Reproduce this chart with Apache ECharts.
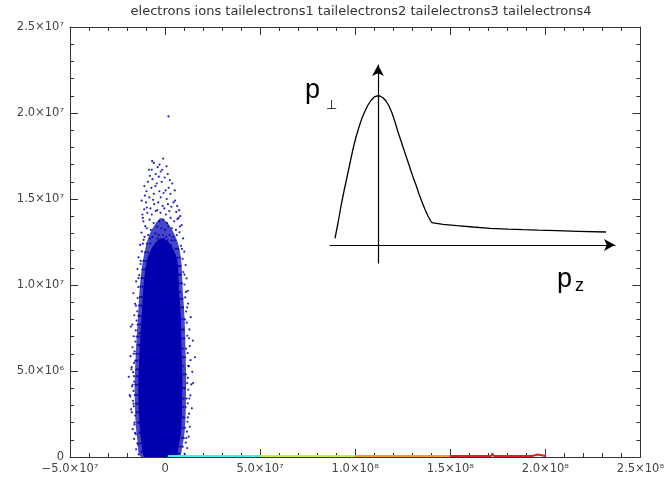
<!DOCTYPE html>
<html><head><meta charset="utf-8">
<script src="https://cdn.jsdelivr.net/npm/echarts@6/dist/echarts.min.js"></script>
<style>html,body{margin:0;padding:0;background:#fff}#c{width:667px;height:480px}</style>
</head><body><div id="c"></div>
<script>
// ---- text ----
const titleText = 'electrons ions tailelectrons1 tailelectrons2 tailelectrons3 tailelectrons4';
// ---- axes (values in units of 10^6) ----
const xMin = -50, xMax = 250, xStep = 50;
const yMin = 0, yMax = 25, yStep = 5;
const xTickLabels = ['\u22125.0\u00d710\u2077', '0', '5.0\u00d710\u2077', '1.0\u00d710\u2078', '1.5\u00d710\u2078', '2.0\u00d710\u2078', '2.5\u00d710\u2078'];
const yTickLabels = ['0', '5.0\u00d710\u2076', '1.0\u00d710\u2077', '1.5\u00d710\u2077', '2.0\u00d710\u2077', '2.5\u00d710\u2077'];

// ---- electrons: dense core outline (x, y in 10^6) ----
const coreX = [-10.6, -12.6, -13.6, -14.1, -13.9, -13.1, -12.1, -11.5, -10.4, -8.8, -6.1, -2.3, 1.8, 5.1, 6.7, 7.3, 8.4, 8.5, 9.0, 9.0, 8.5, 7.3, 5.3];
const coreY = [0, 1.0, 2.2, 3.9, 5.0, 6.8, 8.6, 9.7, 10.9, 11.7, 12.3, 12.7, 12.5, 11.9, 11.2, 9.7, 8.0, 6.8, 5.1, 3.3, 1.6, 0.7, 0];
// ---- electrons: speckled fringe outline ----
const fringeX = [-12.5, -14.6, -15.6, -16.0, -15.8, -15.0, -14.0, -13.4, -12.3, -10.8, -8.3, -4.8, -2.3, 0.5, 3.8, 6.9, 8.5, 9.3, 10.3, 10.6, 11.0, 11.0, 10.4, 9.2, 7.2];
const fringeY = [0, 1.0, 2.2, 3.9, 5.0, 6.8, 8.6, 9.7, 10.9, 11.9, 12.9, 13.6, 13.9, 13.7, 13.2, 12.4, 11.4, 9.7, 8.0, 6.8, 5.1, 3.3, 1.6, 0.7, 0];
// ---- electrons: scattered halo points ----
const electronHalo = [
  [-11.2,0.3],[-12.5,0.3],[-13.0,0.8],[-11.8,0.8],[-14.6,0.8],[-13.5,1.4],[-12.9,1.4],[-15.8,1.4],
  [-14.2,2.0],[-13.8,2.0],[-16.1,2.0],[-14.9,2.6],[-14.0,2.6],[-17.5,2.6],[-15.1,3.1],[-14.3,3.1],[-16.6,3.1],
  [-14.8,3.6],[-15.9,3.6],[-18.6,3.6],[-14.6,4.2],[-15.5,4.2],[-17.0,4.2],[-14.9,4.7],[-14.2,4.7],[-16.4,4.7],
  [-17.7,5.1],[-15.0,5.1],[-14.1,5.1],[-14.8,5.6],[-15.7,5.6],[-15.2,6.0],[-13.8,6.0],[-16.5,6.0],
  [-14.4,6.5],[-13.5,6.5],[-13.8,7.0],[-15.0,7.0],[-13.3,7.2],[-17.2,7.7],[-13.2,7.7],[-14.4,7.7],
  [-12.9,8.2],[-14.0,8.2],[-12.5,8.8],[-13.6,8.8],[-15.3,8.8],[-12.2,9.3],[-13.1,9.3],[-11.8,9.9],[-12.9,9.9],
  [-11.5,10.4],[-12.4,10.4],[-14.0,10.4],[-10.9,10.9],[-11.9,10.9],[-10.2,11.4],[-11.3,11.4],[-12.8,11.4],
  [-9.1,11.9],[-10.5,11.9],[-7.8,12.4],[-9.6,12.4],[-11.7,12.4],
  [6.2,0.2],[7.4,0.2],[8.0,0.6],[9.3,0.6],[8.8,1.1],[9.9,1.1],[11.2,1.1],[9.2,1.7],[10.5,1.7],
  [9.4,2.3],[10.1,2.3],[12.0,2.3],[9.6,2.9],[10.8,2.9],[9.7,3.4],[11.3,3.4],[12.7,3.4],[9.5,4.0],[10.4,4.0],
  [14.7,4.3],[11.6,4.3],[9.8,4.8],[10.9,4.8],[9.6,5.3],[12.2,5.3],[15.7,5.8],[9.4,5.8],[10.6,5.8],
  [9.2,6.3],[11.0,6.3],[9.0,6.9],[10.1,6.9],[12.6,6.9],[8.9,7.4],[9.8,7.4],[9.1,8.0],[10.4,8.0],
  [11.6,8.7],[8.6,8.7],[9.5,8.7],[8.2,9.2],[9.1,9.2],[11.0,9.6],[7.9,9.6],[7.6,10.1],[8.8,10.1],
  [7.4,10.6],[8.3,10.6],[10.2,10.6],[7.2,11.1],[8.1,11.1],[6.4,11.6],[7.6,11.6],[5.6,12.1],[6.8,12.1],[8.9,12.1],
  [3.5,12.6],[5.0,12.6],[-7.8,12.7],[-4.0,12.7],[-0.5,12.7],[1.3,12.6],
  [-10.8,12.8],[-8.9,12.9],[-6.7,12.8],[-5.1,13.0],[-3.4,12.9],[-1.2,12.9],[0.6,12.8],[2.4,12.9],[4.1,12.8],[6.2,12.9],
  [-9.6,13.3],[-7.5,13.2],[-4.3,13.4],[-2.0,13.3],[-0.1,13.2],[1.7,13.4],[3.6,13.3],[5.7,13.2],[7.8,13.4],
  [-11.4,13.7],[-8.1,13.8],[-6.0,13.6],[-3.0,13.7],[-0.9,13.8],[1.1,13.6],[2.9,13.9],[4.8,13.7],
  [-9.3,14.2],[-7.0,14.1],[-4.9,14.3],[-2.4,14.2],[0.4,14.1],[2.2,14.3],[8.0,14.0],
  [-11.0,14.4],[-5.7,14.7],[-3.6,14.8],[-1.3,14.6],[1.5,14.7],[4.4,14.8],
  [-10.0,14.8],[-8.3,15.1],[-2.3,15.1],[0.9,15.0],[2.8,15.3],[-5.9,15.3],
  [-4.4,15.9],[-1.8,16.0],[-9.0,16.0],[0.3,15.5],[-3.3,16.3],[-2.3,16.6],[-5.9,17.1],[0.8,16.9],[-8.5,16.7],[-7.0,16.7],[-1.5,16.7],
  [1.8,19.8],
  [-7.7,14.45],[-6.3,14.95],[-4.1,14.35],[-0.4,14.45],[3.3,14.55],[5.9,14.25],[-9.8,15.45],[-7.2,15.65],[-5.1,15.75],[-3.0,15.45],
  [-0.8,15.35],[1.9,15.65],[3.8,15.9],[-6.6,16.15],[-4.9,16.45],[-0.2,16.25],[1.4,16.45],[-8.0,16.35],[-3.9,16.85],[-2.9,17.0],
  [-6.8,17.2],[-1.0,17.35],[2.5,16.1],[-10.9,15.75],[6.4,14.6],[5.1,15.5],[-12.3,14.9],[3.1,12.3],[-11.9,14.1],[7.1,13.9],
  [-13.9,0.15],[-15.2,0.45],[-14.1,0.72],[-16.3,1.05],[-15.4,1.33],[-17.0,1.62],[-16.1,1.88],[-15.7,2.41],[-17.9,2.77],[-16.4,2.95],
  [-16.9,3.27],[-18.3,3.52],[-16.6,3.84],[-17.4,4.11],[-16.2,4.38],[-19.1,4.66],[-16.8,4.93],[-17.6,5.22],[-16.3,5.47],[-18.2,5.86],
  [-16.0,6.14],[-17.1,6.38],[-15.6,6.71],[-16.5,7.02],[-15.4,7.36],[-18.0,7.58],[-15.0,7.93],[-16.2,8.24],[-14.6,8.47],[-15.8,8.91],
  [-14.4,9.24],[-16.7,9.52],[-14.1,9.88],[-15.2,10.21],[-13.6,10.57],[-14.5,10.93],[-12.9,11.22],[-14.0,11.61],[-12.2,11.95],[-13.1,12.33],
  [-11.3,12.62],[-12.4,13.05],[-10.4,13.42],[-11.7,13.9],[-9.6,14.5],[-10.6,15.2],
  [10.3,0.18],[11.6,0.52],[10.9,0.83],[12.4,1.19],[11.5,1.47],[13.0,1.76],[11.8,2.05],[12.6,2.52],[14.1,2.83],[11.9,3.12],
  [13.3,3.58],[12.2,3.91],[13.8,4.22],[12.0,4.6],[14.3,4.95],[12.5,5.28],[13.4,5.63],[11.9,6.04],[13.0,6.45],[14.6,6.77],
  [11.7,7.05],[12.8,7.42],[11.4,7.81],[13.5,8.13],[11.1,8.46],[12.1,8.92],[10.6,9.28],[11.9,9.66],[10.2,10.03],[11.3,10.38],
  [9.6,10.75],[10.8,11.16],[9.2,11.52],[10.1,11.94],[8.4,12.28],[9.5,12.71],[7.6,13.06],[8.7,13.48],[6.5,13.83],[7.4,14.35],[5.2,14.9]
];
// ---- tail electrons (along p_perp ~ 0) ----
const tail1 = [[1.5,0.06],[50,0.06]];
const tail2 = [[50,0.06],[100,0.06]];
const tail3 = [[100,0.06],[150,0.06]];
const tail4 = [[150,0.06],[171.5,0.06],[172,0.2],[173,0.06],[193,0.06],[194,0.15],[196,0.15],[197,0.06],[200,0.06]];
// ---- inset sketch curve (arbitrary units): peak and tail ----
const insetPeakU = [-43, -40, -37, -34, -31, -28, -25, -22, -19, -16, -13, -10, -7, -4, -1, 2, 5, 8, 11, 14, 17, 20, 23, 26, 29, 32, 35, 38, 41, 44, 47, 50, 53.7];
const insetPeakV = [6.7, 22, 39, 54, 68, 82, 96, 108, 118, 127, 134, 140, 144.5, 147.8, 149.2, 149, 147.3, 144, 139, 132, 123, 113, 104, 95, 86, 77, 68, 60, 51, 43, 35.5, 29, 22.3];
const insetTailU = [53.7, 65, 78.7, 95, 112, 130, 145.3, 160, 178.7, 200, 228];
const insetTailV = [22.3, 20.6, 19.3, 18, 16.7, 15.9, 15.3, 14.8, 14.3, 13.7, 13];

const FONT = 'DejaVu Sans';
const AX = '#333';
function xFmt(v){ const i = Math.round((v - xMin) / xStep); return xTickLabels[i] !== undefined ? xTickLabels[i] : ''; }
function yFmt(v){ const i = Math.round((v - yMin) / yStep); return yTickLabels[i] !== undefined ? yTickLabels[i] : ''; }

function mainAxis(pos, isX, showLabel){
  return {
    type: 'value', gridIndex: 0, position: pos,
    min: isX ? xMin : yMin, max: isX ? xMax : yMax, interval: isX ? xStep : yStep,
    axisLine: { show: true, onZero: false, lineStyle: { color: AX, width: 1 } },
    axisTick: { show: true, inside: true, length: 8, lineStyle: { color: AX } },
    minorTick: { show: true, splitNumber: 5, length: 4, lineStyle: { color: AX } },
    splitLine: { show: false },
    axisLabel: { show: showLabel, formatter: isX ? xFmt : yFmt, fontFamily: FONT, fontSize: 11.5, color: '#444', margin: 6, showMinLabel: true, showMaxLabel: true }
  };
}
const insetAxisBase = {
  type: 'value', gridIndex: 1,
  axisLine: { show: true, onZero: true, symbol: ['none', 'arrow'], symbolSize: [9, 11], lineStyle: { color: '#000', width: 1.2 } },
  axisTick: { show: false }, axisLabel: { show: false }, splitLine: { show: false }
};
const polyItem = (xs, ys, fill, opacity) => function (params, api) {
  if (params.dataIndex !== 0) return null;
  const pts = xs.map((x, i) => api.coord([x, ys[i]]));
  return { type: 'polygon', shape: { points: pts, smooth: 0.3 }, style: { fill: fill, opacity: opacity } };
};

const chart = echarts.init(document.getElementById('c'), null, { renderer: 'canvas' });
chart.setOption({
  animation: false,
  backgroundColor: '#fff',
  title: { text: titleText, left: 356, top: 0, textAlign: 'center',
    textStyle: { fontFamily: FONT, fontSize: 13, fontWeight: 'normal', color: '#333' } },
  grid: [
    { left: 70, right: 14, top: 27, bottom: 23 },
    { left: 330, right: 52, top: 65, bottom: 217 }
  ],
  xAxis: [
    mainAxis('bottom', true, true),
    mainAxis('top', true, false),
    Object.assign({}, insetAxisBase, { min: -48, max: 237 })
  ],
  yAxis: [
    mainAxis('left', false, true),
    mainAxis('right', false, false),
    Object.assign({}, insetAxisBase, { min: -18, max: 180 })
  ],
  graphic: [
    { type: 'text', left: 305, top: 77, style: { text: 'p', font: '27px "Liberation Sans"', fill: '#000' } },
    { type: 'text', left: 326, top: 99, style: { text: '\u22a5', font: '13px "DejaVu Sans"', fill: '#000' } },
    { type: 'text', left: 557, top: 266, style: { text: 'p', font: '27px "Liberation Sans"', fill: '#000' } },
    { type: 'text', left: 575, top: 277, style: { text: 'z', font: '18px "Liberation Sans"', fill: '#000' } }
  ],
  series: [
    {
      name: 'electrons', type: 'custom', xAxisIndex: 0, yAxisIndex: 0, clip: true,
      data: fringeX.map((x, i) => [x, fringeY[i]]), encode: { x: 0, y: 1 },
      renderItem: polyItem(fringeX, fringeY, '#0000b4', 0.72)
    },
    {
      name: 'electrons', type: 'custom', xAxisIndex: 0, yAxisIndex: 0, clip: true,
      data: coreX.map((x, i) => [x, coreY[i]]), encode: { x: 0, y: 1 },
      renderItem: polyItem(coreX, coreY, '#0000ae', 1)
    },
    {
      name: 'electrons', type: 'scatter', xAxisIndex: 0, yAxisIndex: 0,
      data: electronHalo, symbol: 'circle', symbolSize: 2.2,
      itemStyle: { color: '#0000b4', opacity: 0.85 }
    },
    { name: 'ions', type: 'scatter', xAxisIndex: 0, yAxisIndex: 0, data: [] },
    { name: 'tailelectrons1', type: 'line', xAxisIndex: 0, yAxisIndex: 0, data: tail1, showSymbol: false, lineStyle: { color: '#3ff0f0', width: 2 } },
    { name: 'tailelectrons2', type: 'line', xAxisIndex: 0, yAxisIndex: 0, data: tail2, showSymbol: false, lineStyle: { color: '#c4f040', width: 2 } },
    { name: 'tailelectrons3', type: 'line', xAxisIndex: 0, yAxisIndex: 0, data: tail3, showSymbol: false, lineStyle: { color: '#ff9a30', width: 2 } },
    { name: 'tailelectrons4', type: 'line', xAxisIndex: 0, yAxisIndex: 0, data: tail4, showSymbol: false, lineStyle: { color: '#e02020', width: 2 } },
    {
      name: 'sketch', type: 'line', xAxisIndex: 2, yAxisIndex: 2,
      data: insetPeakU.map((u, i) => [u, insetPeakV[i]]), showSymbol: false, smooth: false,
      lineStyle: { color: '#000', width: 1.3 }
    },
    {
      name: 'sketch', type: 'line', xAxisIndex: 2, yAxisIndex: 2,
      data: insetTailU.map((u, i) => [u, insetTailV[i]]), showSymbol: false, smooth: false,
      lineStyle: { color: '#000', width: 1.3 }
    }
  ]
});
</script></body></html>
